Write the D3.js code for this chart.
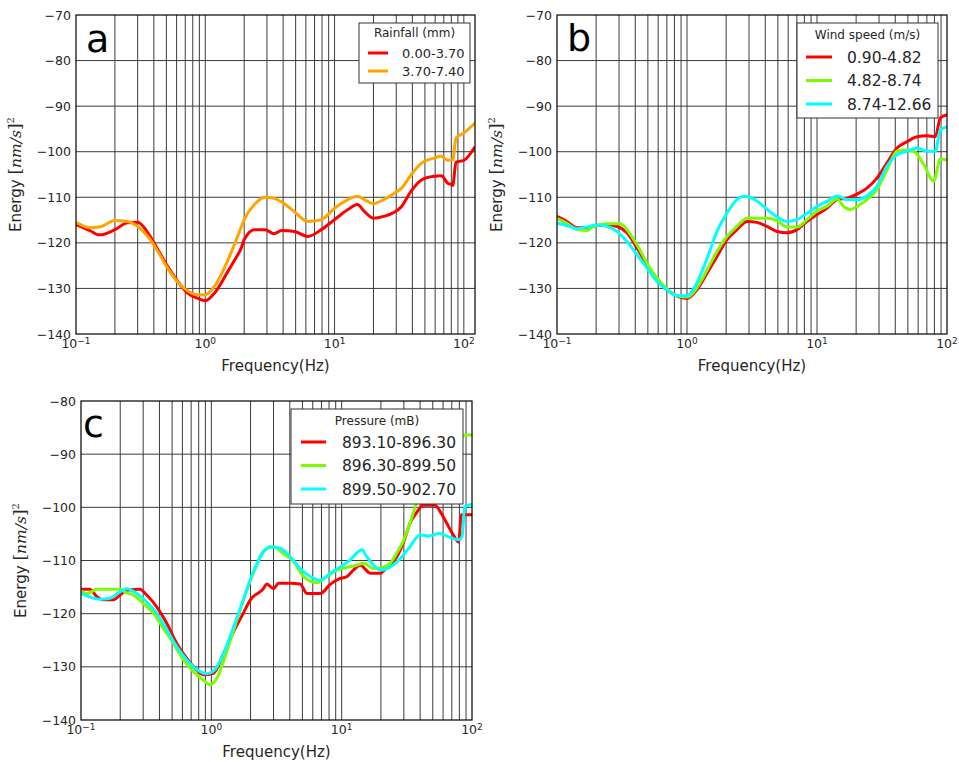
<!DOCTYPE html>
<html>
<head>
<meta charset="utf-8">
<script src="https://cdn.jsdelivr.net/npm/d3@7"></script>
<style>
  body { margin: 0; background: #fff; }
  svg { display: block; font-family: "DejaVu Sans", sans-serif; }
</style>
</head>
<body>
<script>
// ---- panel a : rainfall ----
const aRedFreq = [0.1, 0.13, 0.148, 0.157, 0.2, 0.25, 0.3, 0.36, 0.43, 0.51, 0.62, 0.73, 0.88, 1.0, 1.18, 1.5, 1.7, 1.9, 2.0, 2.4, 2.9, 3.4, 3.9, 4.9, 6.2, 7.9, 10, 12.7, 15, 17, 20, 24, 29, 33, 39, 47, 59, 67, 75, 80, 82, 87, 100, 122]
const aRed = [-116.0, -117.4, -118.2, -118.2, -117.1, -115.6, -115.5, -117.8, -121.5, -125.1, -128.7, -131.0, -132.2, -132.7, -131.0, -126.2, -123.6, -121.1, -119.3, -117.1, -117.1, -118.0, -117.3, -117.5, -118.6, -117.1, -114.9, -112.7, -111.6, -113.1, -114.6, -114.2, -113.3, -112.0, -108.7, -106.2, -105.4, -105.3, -106.9, -107.2, -107.4, -102.3, -101.9, -98.9]
const aOrangeFreq = aRedFreq
const aOrange = [-115.5, -116.7, -116.5, -116.4, -115.1, -115.3, -116.4, -118.6, -121.9, -125.5, -128.8, -130.5, -131.4, -131.4, -129.5, -123.7, -120.0, -116.5, -114.9, -111.6, -110.0, -110.2, -111.0, -113.2, -115.3, -114.9, -112.4, -110.5, -109.8, -110.5, -111.4, -110.5, -109.1, -108.0, -105.1, -102.5, -101.4, -101.0, -101.9, -101.8, -101.8, -97.0, -95.9, -93.7]

// ---- panel b : wind speed ----
const bRedFreq = [0.1, 0.119, 0.143, 0.17, 0.203, 0.243, 0.29, 0.345, 0.412, 0.492, 0.588, 0.702, 0.838, 1.0, 1.19, 1.43, 1.7, 2.03, 2.42, 2.9, 3.45, 4.12, 4.92, 5.88, 7.02, 8.38, 10, 11.9, 14.3, 17, 20.3, 24.2, 28.9, 34.5, 41.2, 49.2, 58.7, 70.2, 81.3, 88.8, 100]
const bRed = [-114.2, -115.3, -116.7, -116.7, -116.2, -116.1, -116.4, -117.8, -121.1, -124.8, -128.1, -130.3, -131.7, -132.2, -130.3, -126.6, -123.0, -119.3, -117.1, -115.3, -115.5, -116.4, -117.5, -117.8, -117.1, -115.3, -113.8, -112.4, -110.5, -110.2, -109.3, -108.0, -105.8, -102.5, -99.2, -97.8, -96.7, -96.5, -96.7, -92.6, -91.9]
const bGreenFreq = [0.1, 0.119, 0.143, 0.17, 0.191, 0.243, 0.307, 0.345, 0.412, 0.492, 0.588, 0.702, 0.838, 1.0, 1.19, 1.43, 1.7, 2.03, 2.42, 2.9, 3.45, 4.12, 4.92, 5.88, 7.02, 8.38, 10, 11.9, 14.3, 16, 18, 20.3, 24.2, 28.9, 34.5, 41.2, 49.2, 55.4, 66.2, 78.9, 88.8, 100]
const bGreen = [-114.6, -115.7, -117.1, -117.3, -116.4, -115.8, -115.8, -117.1, -120.4, -124.4, -127.7, -130.1, -131.6, -131.9, -129.9, -125.9, -121.9, -118.6, -116.4, -114.6, -114.6, -114.6, -115.1, -116.5, -116.5, -114.9, -113.0, -112.0, -110.4, -112.0, -112.7, -112.0, -110.5, -108.3, -104.0, -99.9, -99.6, -99.9, -102.8, -106.5, -101.6, -101.8]
const bCyanFreq = [0.1, 0.119, 0.143, 0.17, 0.203, 0.243, 0.29, 0.345, 0.412, 0.492, 0.588, 0.702, 0.838, 1.0, 1.19, 1.43, 1.7, 2.03, 2.42, 2.73, 3.26, 3.89, 4.64, 5.88, 7.02, 8.38, 10, 11.9, 14.3, 17, 20.3, 24.2, 28.9, 34.5, 41.2, 49.2, 58.7, 70.2, 81.3, 88.8, 100]
const bCyan = [-115.7, -116.2, -116.9, -116.5, -116.1, -116.4, -117.5, -119.7, -122.6, -125.5, -128.5, -130.3, -131.6, -131.6, -128.8, -123.3, -117.5, -113.5, -110.5, -109.8, -110.4, -112.0, -113.8, -115.3, -114.9, -113.5, -112.0, -110.9, -109.7, -110.5, -110.5, -109.7, -107.6, -103.2, -100.7, -99.9, -99.2, -99.9, -99.9, -95.2, -94.5]

// ---- panel c : pressure ----
const cRedFreq = [0.1, 0.117, 0.132, 0.148, 0.177, 0.199, 0.224, 0.284, 0.319, 0.381, 0.455, 0.543, 0.648, 0.773, 0.869, 1.04, 1.24, 1.48, 1.76, 1.99, 2.51, 2.66, 3.0, 3.28, 4.03, 4.8, 5.41, 6.84, 8.17, 9.46, 11.0, 12.3, 13.9, 16.6, 19.8, 22.2, 26.5, 29.9, 33.4, 37.8, 42, 52, 57, 64, 72, 79, 83, 100]
const cRed = [-115.4, -115.4, -116.8, -117.4, -117.4, -116.5, -115.6, -115.4, -116.5, -118.7, -121.8, -125.6, -128.4, -130.6, -131.5, -131.2, -127.5, -123.4, -119.9, -117.4, -115.3, -114.4, -115.3, -114.3, -114.3, -114.4, -116.2, -116.2, -114.5, -113.5, -113.0, -111.8, -110.9, -112.4, -112.4, -111.3, -109.3, -106.5, -103.0, -100.9, -99.6, -99.6, -100.8, -103.0, -105.2, -106.5, -101.4, -101.4]
const cGreenFreq = [0.1, 0.11, 0.124, 0.132, 0.157, 0.199, 0.224, 0.252, 0.301, 0.359, 0.429, 0.512, 0.611, 0.729, 0.869, 0.979, 1.1, 1.31, 1.57, 1.87, 2.23, 2.51, 3.0, 3.57, 4.27, 5.1, 6.45, 7.7, 9.19, 11.0, 13.1, 14.7, 17.6, 21.0, 23.6, 26.5, 29.5, 33.4, 36.6, 42, 50, 60, 72, 85, 90, 100]
const cGreen = [-115.7, -116.2, -115.7, -115.4, -115.4, -115.4, -116.1, -116.5, -118.1, -119.9, -122.8, -125.6, -128.7, -130.9, -132.5, -133.4, -132.2, -127.2, -121.2, -115.6, -110.9, -108.2, -107.4, -108.7, -110.2, -113.0, -114.2, -113.0, -111.8, -111.3, -110.9, -110.5, -111.5, -111.2, -110.5, -108.6, -106.5, -103.0, -100.0, -96.5, -93.0, -90.0, -88.0, -86.6, -86.4, -86.4]
const cCyanFreq = [0.1, 0.117, 0.14, 0.167, 0.199, 0.224, 0.268, 0.319, 0.381, 0.455, 0.543, 0.648, 0.773, 0.922, 1.04, 1.24, 1.48, 1.76, 2.1, 2.51, 2.83, 3.37, 4.03, 4.8, 5.73, 6.84, 8.17, 9.74, 11.6, 14.3, 15.6, 17.6, 19.8, 23.6, 26.5, 33.4, 39.9, 47, 56, 67, 79, 83.8, 88, 100]
const cCyan = [-116.2, -116.9, -117.3, -117.1, -115.9, -115.3, -116.2, -117.8, -119.9, -123.0, -126.2, -128.7, -130.5, -131.3, -130.8, -127.5, -122.5, -117.4, -112.1, -108.4, -107.4, -107.7, -109.3, -111.5, -113.0, -113.7, -112.4, -111.2, -109.9, -108.0, -109.3, -110.9, -111.8, -111.2, -110.3, -107.4, -105.2, -105.4, -104.9, -105.6, -106.1, -105.5, -99.9, -99.4]

const rainfallLabels = ["0.00-3.70", "3.70-7.40"]
const windLabels = ["0.90-4.82", "4.82-8.74", "8.74-12.66"]
const pressureLabels = ["893.10-896.30", "896.30-899.50", "899.50-902.70"]

const red = "#ff0000", orange = "#ffa500", green = "#7cfc00", cyan = "#00ffff"
const textColor = "#262626"

const width = 959
const height = 762

const svg = d3.select("body").append("svg")
  .attr("width", width)
  .attr("height", height)

const panels = [
  {
    id: "a", left: 76, top: 15, w: 399, h: 319, xMax: 122, yMin: -140, yMax: -70, letterDx: 10, letterDy: 37,
    series: [
      { freq: aRedFreq, energy: aRed, color: red, label: rainfallLabels[0] },
      { freq: aOrangeFreq, energy: aOrange, color: orange, label: rainfallLabels[1] },
    ],
    legend: { title: "Rainfall (mm)", x: 359, y: 23, w: 111, h: 60, titleDy: 10, rowDy: 30, rowStep: 18, fontSize: 13, line0: 9, line1: 29, textDx: 43 },
  },
  {
    id: "b", left: 557, top: 15, w: 390, h: 319, xMax: 100, yMin: -140, yMax: -70, letterDx: 10, letterDy: 36,
    series: [
      { freq: bRedFreq, energy: bRed, color: red, label: windLabels[0] },
      { freq: bGreenFreq, energy: bGreen, color: green, label: windLabels[1] },
      { freq: bCyanFreq, energy: bCyan, color: cyan, label: windLabels[2] },
    ],
    legend: { title: "Wind speed (m/s)", x: 797, y: 23, w: 141, h: 95, titleDy: 12, rowDy: 34, rowStep: 23.5, fontSize: 15.5, line0: 9, line1: 35, textDx: 50 },
  },
  {
    id: "c", left: 81, top: 401, w: 391, h: 319, xMax: 100, yMin: -140, yMax: -80, letterDx: 2, letterDy: 36,
    series: [
      { freq: cRedFreq, energy: cRed, color: red, label: pressureLabels[0] },
      { freq: cGreenFreq, energy: cGreen, color: green, label: pressureLabels[1] },
      { freq: cCyanFreq, energy: cCyan, color: cyan, label: pressureLabels[2] },
    ],
    legend: { title: "Pressure (mB)", x: 291, y: 409, w: 172, h: 95, titleDy: 12, rowDy: 33, rowStep: 23.5, fontSize: 15.5, line0: 10, line1: 35, textDx: 51 },
  },
]

function drawPanel(p) {
  const x = d3.scaleLog().domain([0.1, p.xMax]).range([0, p.w])
  const y = d3.scaleLinear().domain([p.yMin, p.yMax]).range([p.h, 0])

  const g = svg.append("g").attr("transform", `translate(${p.left},${p.top})`)

  g.append("clipPath").attr("id", "clip-" + p.id)
    .append("rect").attr("width", p.w).attr("height", p.h)

  // vertical grid at every 1..9 x 10^e
  const xGrid = []
  for (let e = -1; e <= 2; e++) {
    for (let k = 1; k <= 9; k++) {
      const v = k * Math.pow(10, e)
      if (v > 0.1 && v < p.xMax) xGrid.push(v)
    }
  }
  const yTicks = d3.range(p.yMin, p.yMax + 1, 10)

  g.selectAll(".vgrid").data(xGrid).enter().append("line")
    .attr("x1", d => x(d)).attr("x2", d => x(d))
    .attr("y1", 0).attr("y2", p.h)
    .attr("stroke", "#3c3c3c").attr("stroke-width", 1)

  g.selectAll(".hgrid").data(yTicks.slice(1, -1)).enter().append("line")
    .attr("x1", 0).attr("x2", p.w)
    .attr("y1", d => y(d)).attr("y2", d => y(d))
    .attr("stroke", "#3c3c3c").attr("stroke-width", 1)

  const line = d3.line()
    .x(d => x(d[0]))
    .y(d => y(d[1]))
    .curve(d3.curveMonotoneX)

  const lines = g.append("g").attr("clip-path", `url(#clip-${p.id})`)
  p.series.forEach(s => {
    lines.append("path")
      .datum(d3.zip(s.freq, s.energy))
      .attr("d", line)
      .attr("fill", "none")
      .attr("stroke", s.color)
      .attr("stroke-width", 3)
      .attr("stroke-linejoin", "round")
  })

  g.append("rect")
    .attr("width", p.w).attr("height", p.h)
    .attr("fill", "none").attr("stroke", "#000").attr("stroke-width", 1.2)

  // y tick labels
  g.selectAll(".ylab").data(yTicks).enter().append("text")
    .attr("x", -5).attr("y", d => y(d)).attr("dy", "0.36em")
    .attr("text-anchor", "end")
    .attr("font-size", 12.5).attr("fill", textColor)
    .text(d3.format("d"))

  // x tick labels, powers of ten
  const decades = [-1, 0, 1, 2]
  const xl = g.selectAll(".xlab").data(decades).enter().append("text")
    .attr("x", d => x(Math.pow(10, d)))
    .attr("y", p.h + 14)
    .attr("text-anchor", "middle")
    .attr("font-size", 12.5).attr("fill", textColor)
  xl.append("tspan").text("10")
  xl.append("tspan").attr("dy", "-0.42em").attr("font-size", 9).text(d => d < 0 ? "\u2212" + (-d) : d)

  g.append("text")
    .attr("x", p.w / 2).attr("y", p.h + 37)
    .attr("text-anchor", "middle")
    .attr("font-size", 15).attr("fill", textColor)
    .text("Frequency(Hz)")

  const yl = g.append("text")
    .attr("transform", `translate(-55,${p.h / 2}) rotate(-90)`)
    .attr("text-anchor", "middle")
    .attr("font-size", 15).attr("fill", textColor)
  yl.append("tspan").text("Energy ")
  yl.append("tspan").attr("font-family", "DejaVu Serif").attr("font-size", 17).text("[")
  yl.append("tspan").attr("font-family", "DejaVu Serif").attr("font-style", "italic").attr("font-size", 15.5).text("nm/s")
  yl.append("tspan").attr("font-family", "DejaVu Serif").attr("font-size", 17).text("]")
  yl.append("tspan").attr("font-family", "DejaVu Serif").attr("font-size", 10).attr("dy", "-0.7em").text("2")

  g.append("text")
    .attr("x", p.letterDx).attr("y", p.letterDy)
    .attr("font-size", 38).attr("fill", "#000")
    .text(p.id)

  // legend
  const L = p.legend
  const lg = svg.append("g").attr("transform", `translate(${L.x},${L.y})`)
  lg.append("rect").attr("width", L.w).attr("height", L.h)
    .attr("fill", "#fff").attr("stroke", "#333").attr("stroke-width", 1)
  lg.append("text")
    .attr("x", L.w / 2).attr("y", L.titleDy).attr("dy", "0.36em")
    .attr("text-anchor", "middle").attr("font-size", 12).attr("fill", textColor)
    .text(L.title)
  const rows = lg.selectAll(".row").data(p.series).enter().append("g")
    .attr("transform", (d, i) => `translate(0,${L.rowDy + i * L.rowStep})`)
  rows.append("line")
    .attr("x1", L.line0).attr("x2", L.line1)
    .attr("stroke", d => d.color).attr("stroke-width", 3)
  rows.append("text")
    .attr("x", L.textDx).attr("dy", "0.36em")
    .attr("font-size", L.fontSize).attr("fill", textColor)
    .text(d => d.label)
}

panels.forEach(drawPanel)
</script>
</body>
</html>
